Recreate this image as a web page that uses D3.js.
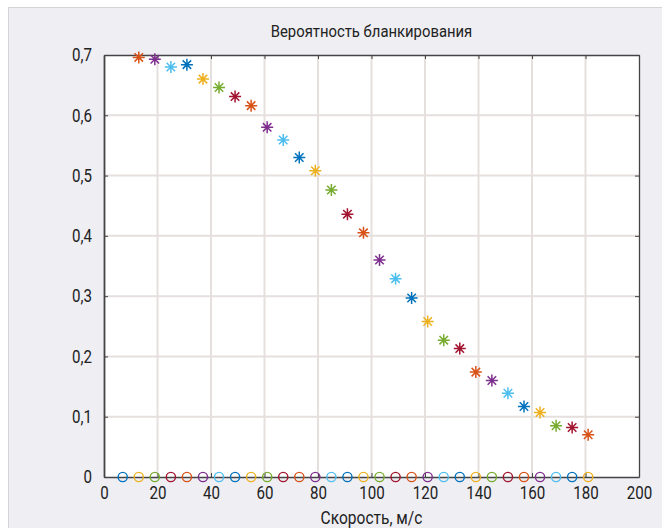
<!DOCTYPE html>
<html>
<head>
<meta charset="utf-8">
<script src="https://cdn.jsdelivr.net/npm/d3@7"></script>
<style>
  body { margin: 0; background: #fff; }
  text { font-family: "Roboto", "DejaVu Sans Condensed", sans-serif; fill: #222; }
</style>
</head>
<body>
<div id="chart"></div>
<script>
var width = 662,
  height = 528;

// speeds for the asterisk series and the circle series (at zero)
var starSpeed = [13, 19, 25, 31, 37, 43, 49, 55, 61, 67, 73, 79, 85, 91, 97,
  103, 109, 115, 121, 127, 133, 139, 145, 151, 157, 163, 169, 175, 181];
var starProb = [0.696, 0.693, 0.680, 0.684, 0.660, 0.646, 0.631, 0.616, 0.580, 0.559,
  0.530, 0.508, 0.476, 0.436, 0.405, 0.360, 0.329, 0.297, 0.258, 0.227,
  0.213, 0.174, 0.160, 0.139, 0.117, 0.107, 0.085, 0.082, 0.070];
var circleSpeed = [7, 13, 19, 25, 31, 37, 43, 49, 55, 61, 67, 73, 79, 85, 91,
  97, 103, 109, 115, 121, 127, 133, 139, 145, 151, 157, 163, 169, 175, 181];
var circleProb = circleSpeed.map(function () { return 0; });

var xTicks = [0, 20, 40, 60, 80, 100, 120, 140, 160, 180, 200];
var yTicks = [0, 0.1, 0.2, 0.3, 0.4, 0.5, 0.6, 0.7];

// matlab default color order
var colorOrder = ["#0072BD", "#D95319", "#EDB120", "#7E2F8E", "#77AC30", "#4DBEEE", "#A2142F"];

var margin = { left: 104, right: 23, top: 55, bottom: 51 };
var squeeze = 0.84; // fake a condensed font

var svg = d3.select("#chart")
  .append("svg")
  .attr("width", width)
  .attr("height", height);

// figure panel
svg.append("rect")
  .attr("x", 8.5).attr("y", 7.5)
  .attr("width", width).attr("height", height)
  .attr("fill", "#eeeef3")
  .attr("stroke", "#d4d4d8");

var x = d3.scaleLinear().domain([0, 200]).range([margin.left, width - margin.right]);
var y = d3.scaleLinear().domain([0, 0.7]).range([height - margin.bottom, margin.top]);

svg.append("rect")
  .attr("x", x(0)).attr("y", y(0.7))
  .attr("width", x(200) - x(0)).attr("height", y(0) - y(0.7))
  .attr("fill", "#fff");

// grid
svg.append("g").selectAll("line")
  .data(xTicks.slice(1, -1))
  .enter().append("line")
  .attr("x1", function (d) { return x(d); })
  .attr("x2", function (d) { return x(d); })
  .attr("y1", y(0)).attr("y2", y(0.7))
  .attr("stroke", "#e5dfdd").attr("stroke-width", 2);

svg.append("g").selectAll("line")
  .data(yTicks.slice(1, -1))
  .enter().append("line")
  .attr("y1", function (d) { return y(d); })
  .attr("y2", function (d) { return y(d); })
  .attr("x1", x(0)).attr("x2", x(200))
  .attr("stroke", "#e5dfdd").attr("stroke-width", 2);

var fmt = function (d) { return d === 0 ? "0" : d3.format(".1f")(d).replace(".", ","); };

var xAxis = svg.append("g")
  .attr("transform", "translate(0," + y(0) + ")")
  .call(d3.axisBottom(x).tickValues(xTicks).tickSizeInner(-4).tickSizeOuter(0).tickPadding(9));
var yAxis = svg.append("g")
  .attr("transform", "translate(" + x(0) + ",0)")
  .call(d3.axisLeft(y).tickValues(yTicks).tickFormat(fmt).tickSizeInner(-4).tickSizeOuter(0).tickPadding(12));
var xTop = svg.append("g")
  .attr("transform", "translate(0," + y(0.7) + ")")
  .call(d3.axisTop(x).tickValues(xTicks).tickSizeInner(-4).tickSizeOuter(0).tickFormat(""));
var yRight = svg.append("g")
  .attr("transform", "translate(" + x(200) + ",0)")
  .call(d3.axisRight(y).tickValues(yTicks).tickSizeInner(-4).tickSizeOuter(0).tickFormat(""));

[xAxis, yAxis, xTop, yRight].forEach(function (g) {
  g.select(".domain").attr("stroke", "#444").attr("stroke-width", 1.3);
  g.selectAll(".tick line").attr("stroke", "#444");
});
xAxis.select(".domain").attr("stroke-width", 1.5);
yAxis.select(".domain").attr("stroke-width", 1.8);

[xAxis, yAxis].forEach(function (g) {
  g.selectAll(".tick text")
    .style("font-size", "18px")
    .attr("fill", "#222")
    .attr("x", function () { return (+d3.select(this).attr("x") || 0) / squeeze; })
    .attr("transform", "scale(" + squeeze + ",1)");
});

// circles at zero
svg.append("g").selectAll("circle")
  .data(circleSpeed)
  .enter().append("circle")
  .attr("cx", function (d) { return x(d); })
  .attr("cy", function (d, i) { return y(circleProb[i]); })
  .attr("r", 4.6)
  .attr("fill", "none")
  .attr("stroke-width", 1.4)
  .attr("stroke", function (d, i) { return colorOrder[(2 * i) % 7]; });

// asterisk marker (plus + cross)
function star(r) {
  var a = r * Math.SQRT1_2;
  return "M" + (-r) + ",0L" + r + ",0M0," + (-r) + "L0," + r +
    "M" + (-a) + "," + (-a) + "L" + a + "," + a + "M" + (-a) + "," + a + "L" + a + "," + (-a);
}

svg.append("g").selectAll("path")
  .data(starSpeed)
  .enter().append("path")
  .attr("transform", function (d, i) { return "translate(" + x(d) + "," + y(starProb[i]) + ")"; })
  .attr("d", star(6))
  .attr("fill", "none")
  .attr("stroke-width", 1.5)
  .attr("stroke", function (d, i) { return colorOrder[(2 * i + 1) % 7]; });

var cx = (x(0) + x(200)) / 2;

svg.append("text")
  .attr("transform", "translate(" + cx + ",37) scale(0.9,1)")
  .attr("text-anchor", "middle")
  .style("font-size", "16.5px")
  .text("Вероятность бланкирования");

svg.append("text")
  .attr("transform", "translate(" + cx + ",524) scale(" + squeeze + ",1)")
  .attr("text-anchor", "middle")
  .style("font-size", "18.5px")
  .text("Скорость, м/с");
</script>
</body>
</html>
